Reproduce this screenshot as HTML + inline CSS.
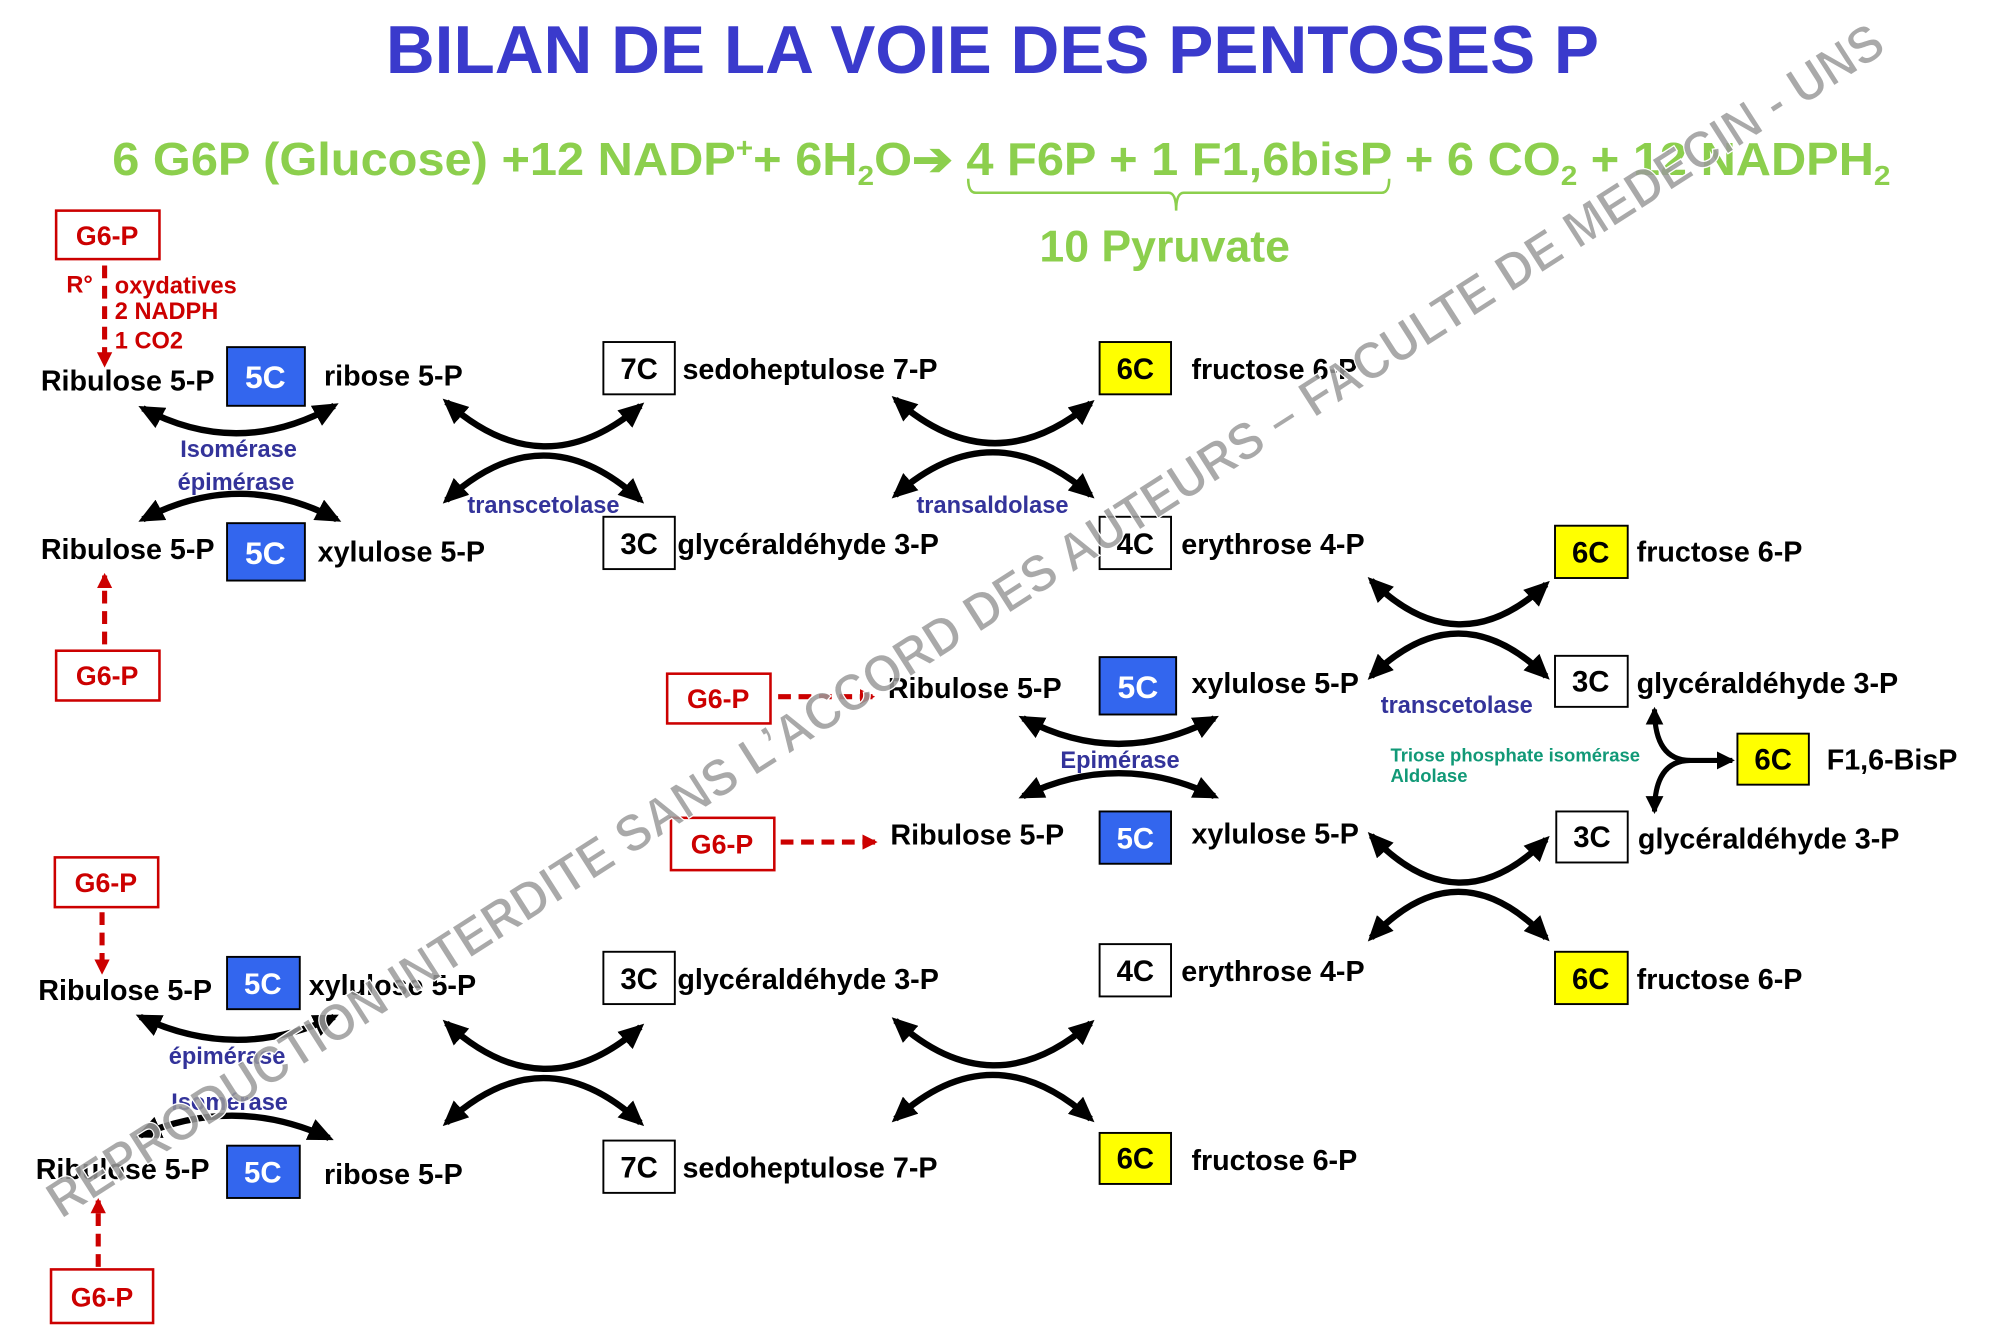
<!DOCTYPE html>
<html><head><meta charset="utf-8"><style>
html,body{margin:0;padding:0;background:#fff;}
svg{display:block;}
text{font-family:"Liberation Sans",Arial,sans-serif;font-weight:bold;}
</style></head><body>
<svg width="1990" height="1341" viewBox="0 0 1560 1051" xmlns="http://www.w3.org/2000/svg">
<defs>
<marker id="ah" markerUnits="userSpaceOnUse" markerWidth="20" markerHeight="18" refX="16" refY="9" orient="auto-start-reverse" viewBox="0 0 20 18"><path d="M0,0 L20,9 L0,18 Z" fill="#000"/></marker>
<marker id="ar" markerUnits="userSpaceOnUse" markerWidth="12" markerHeight="12" refX="10" refY="6" orient="auto-start-reverse" viewBox="0 0 12 12"><path d="M0,0 L12,6 L0,12 Z" fill="#cc0000"/></marker>
<marker id="as" markerUnits="userSpaceOnUse" markerWidth="14" markerHeight="14" refX="12" refY="7" orient="auto-start-reverse" viewBox="0 0 14 14"><path d="M0,0 L14,7 L0,14 Z" fill="#000"/></marker>
</defs>

<text x="778" y="57" font-size="53" fill="#3a3acc" text-anchor="middle">BILAN DE LA VOIE DES PENTOSES P</text>
<text x="88" y="137" font-size="36" fill="#8ccf4d" textLength="1394" lengthAdjust="spacingAndGlyphs">6 G6P (Glucose) +12 NADP<tspan font-size="22" dy="-14">+</tspan><tspan dy="14">+ 6H</tspan><tspan font-size="22" dy="8">2</tspan><tspan dy="-8">O</tspan><tspan font-weight="bold">➔</tspan><tspan> 4 F6P + 1 F1,6bisP + 6 CO</tspan><tspan font-size="22" dy="8">2</tspan><tspan dy="-8"> + 12 NADPH</tspan><tspan font-size="22" dy="8">2</tspan></text>
<path d="M759,140 Q759,151 765,151 L916,151 Q922,151 922,165 Q922,151 928,151 L1083,151 Q1089,151 1089,140" fill="none" stroke="#8ccf4d" stroke-width="2"/>
<text x="913" y="205" font-size="35" fill="#8ccf4d" text-anchor="middle">10 Pyruvate</text>

<g font-size="22.5" fill="#000">
<g fill="#fff" stroke="#cc0000" stroke-width="2">
<rect x="44" y="165" width="81" height="38"/><rect x="44" y="510" width="81" height="39"/>
<rect x="523" y="528" width="81" height="39"/><rect x="526" y="641" width="81" height="41"/>
<rect x="43" y="672" width="81" height="39"/><rect x="40" y="995" width="80" height="42"/>
</g>
<g fill="#cc0000" text-anchor="middle" font-size="21">
<text x="84" y="192">G6-P</text><text x="84" y="537">G6-P</text><text x="563" y="555">G6-P</text>
<text x="566" y="669">G6-P</text><text x="83" y="699">G6-P</text><text x="80" y="1024">G6-P</text>
</g>
<g stroke="#cc0000" stroke-width="4" stroke-dasharray="10,6" fill="none">
<path d="M82,208 L82,286" marker-end="url(#ar)"/>
<path d="M82,505 L82,451" marker-end="url(#ar)"/>
<path d="M610,546 L684,546" marker-end="url(#ar)"/>
<path d="M612,660 L686,660" marker-end="url(#ar)"/>
<path d="M80,715 L80,762" marker-end="url(#ar)"/>
<path d="M77,993 L77,941" marker-end="url(#ar)"/>
</g>
<g fill="#cc0000" font-size="18.5">
<text x="52" y="229">R°</text><text x="90" y="230">oxydatives</text><text x="90" y="250">2 NADPH</text><text x="90" y="273">1 CO2</text>
</g>

<g stroke="#000" stroke-width="1.5">
<rect x="178" y="272" width="61" height="46" fill="#3366ee"/>
<rect x="178" y="410" width="61" height="45" fill="#3366ee"/>
<rect x="862" y="515" width="60" height="45" fill="#3366ee"/>
<rect x="862" y="636" width="56" height="41" fill="#3366ee"/>
<rect x="178" y="750" width="57" height="41" fill="#3366ee"/>
<rect x="178" y="898" width="57" height="41" fill="#3366ee"/>
<rect x="473" y="268" width="56" height="41" fill="#fff"/>
<rect x="473" y="405" width="56" height="41" fill="#fff"/>
<rect x="862" y="268" width="56" height="41" fill="#ffff00"/>
<rect x="862" y="405" width="56" height="41" fill="#fff"/>
<rect x="1219" y="412" width="57" height="41" fill="#ffff00"/>
<rect x="1219" y="514" width="57" height="40" fill="#fff"/>
<rect x="1362" y="575" width="56" height="40" fill="#ffff00"/>
<rect x="1220" y="636" width="56" height="40" fill="#fff"/>
<rect x="1219" y="746" width="57" height="41" fill="#ffff00"/>
<rect x="473" y="746" width="56" height="41" fill="#fff"/>
<rect x="473" y="894" width="56" height="41" fill="#fff"/>
<rect x="862" y="740" width="56" height="41" fill="#fff"/>
<rect x="862" y="888" width="56" height="40" fill="#ffff00"/>
</g>
<g text-anchor="middle" font-weight="normal">
<text x="208" y="304" font-size="25" fill="#fff">5C</text>
<text x="208" y="442" font-size="25" fill="#fff">5C</text>
<text x="892" y="547" font-size="25" fill="#fff">5C</text>
<text x="890" y="665" font-size="23" fill="#fff">5C</text>
<text x="206" y="779" font-size="23" fill="#fff">5C</text>
<text x="206" y="927" font-size="23" fill="#fff">5C</text>
<text x="501" y="297" font-size="23">7C</text>
<text x="501" y="434" font-size="23">3C</text>
<text x="890" y="297" font-size="23">6C</text>
<text x="890" y="434" font-size="23">4C</text>
<text x="1247" y="441" font-size="23">6C</text>
<text x="1247" y="542" font-size="23">3C</text>
<text x="1390" y="603" font-size="23">6C</text>
<text x="1248" y="664" font-size="23">3C</text>
<text x="1247" y="775" font-size="23">6C</text>
<text x="501" y="775" font-size="23">3C</text>
<text x="501" y="923" font-size="23">7C</text>
<text x="890" y="769" font-size="23">4C</text>
<text x="890" y="916" font-size="23">6C</text>
</g>

<text x="32" y="306">Ribulose 5-P</text><text x="254" y="302">ribose 5-P</text>
<text x="32" y="438">Ribulose 5-P</text><text x="249" y="440">xylulose 5-P</text>
<text x="535" y="297">sedoheptulose 7-P</text><text x="531" y="434">glycéraldéhyde 3-P</text>
<text x="934" y="297">fructose 6-P</text><text x="926" y="434">erythrose 4-P</text>
<text x="1283" y="440">fructose 6-P</text><text x="1283" y="543">glycéraldéhyde 3-P</text>
<text x="1432" y="603">F1,6-BisP</text><text x="1284" y="665">glycéraldéhyde 3-P</text>
<text x="1283" y="775">fructose 6-P</text>
<text x="696" y="547">Ribulose 5-P</text><text x="934" y="543">xylulose 5-P</text>
<text x="698" y="662">Ribulose 5-P</text><text x="934" y="661">xylulose 5-P</text>
<text x="30" y="784">Ribulose 5-P</text><text x="242" y="780">xylulose 5-P</text>
<text x="28" y="924">Ribulose 5-P</text><text x="254" y="928">ribose 5-P</text>
<text x="531" y="775">glycéraldéhyde 3-P</text><text x="535" y="923">sedoheptulose 7-P</text>
<text x="926" y="769">erythrose 4-P</text><text x="934" y="917">fructose 6-P</text>
</g>

<g fill="#33339a" font-size="18.5" text-anchor="middle">
<text x="187" y="358">Isomérase</text><text x="185" y="384">épimérase</text>
<text x="426" y="402">transcetolase</text><text x="778" y="402">transaldolase</text>
<text x="1142" y="559">transcetolase</text><text x="878" y="602">Epimérase</text>
<text x="178" y="834">épimérase</text><text x="180" y="870">Isomérase</text>
</g>
<g fill="#119977" font-size="14.5"><text x="1090" y="597">Triose phosphate isomérase</text><text x="1090" y="613">Aldolase</text></g>

<g fill="none" stroke="#000" stroke-width="5" marker-start="url(#ah)" marker-end="url(#ah)">
<path d="M112,320 Q187,360 262,318"/><path d="M112,407 Q188,367 264,407"/>
<path d="M350,315 Q426,383 502,318"/><path d="M350,392 Q426,322 502,392"/>
<path d="M702,313 Q778,380 855,316"/><path d="M702,388 Q778,321 855,388"/>
<path d="M1075,455 Q1143,522 1212,458"/><path d="M1075,530 Q1143,463 1212,530"/>
<path d="M1075,655 Q1143,727 1212,658"/><path d="M1075,735 Q1143,663 1212,735"/>
<path d="M802,563 Q877,603 952,563"/><path d="M802,624 Q877,588 952,624"/>
<path d="M110,797 Q186,833 262,797"/><path d="M110,890 Q184,858 258,892"/>
<path d="M350,802 Q426,872 502,805"/><path d="M350,880 Q426,810 502,880"/>
<path d="M702,800 Q778,869 855,802"/><path d="M702,877 Q778,808 855,877"/>
</g>
<g fill="none" stroke="#000" stroke-width="4">
<path d="M1297,556 Q1297,596 1325,596 L1358,596" marker-start="url(#as)" marker-end="url(#as)"/>
<path d="M1297,636 Q1297,596 1325,596" marker-start="url(#as)"/>
</g>

<text x="0" y="0" font-size="41" fill="#9a9a9a" fill-opacity="0.85" stroke="#fff" stroke-width="1" textLength="1700" lengthAdjust="spacingAndGlyphs" transform="translate(48,956) rotate(-32.6)">REPRODUCTION INTERDITE SANS L’ACCORD DES AUTEURS – FACULTE DE MEDECIN - UNS</text>
</svg>
</body></html>
